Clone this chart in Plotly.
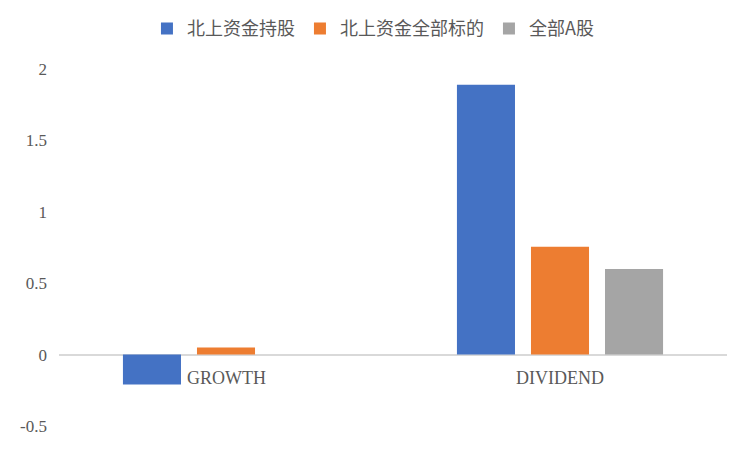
import plotly.graph_objects as go

categories = ["GROWTH", "DIVIDEND"]
series_names = ["北上资金持股", "北上资金全部标的", "全部A股"]
holdings = [-0.21, 1.89]
all_targets = [0.05, 0.755]
all_a = [0.0, 0.60]
colors = ["#4472C4", "#ED7D31", "#A5A5A5"]
y_ticks = [-0.5, 0, 0.5, 1, 1.5, 2]

fig = go.Figure()
for name, vals, c in zip(series_names, [holdings, all_targets, all_a], colors):
    fig.add_trace(go.Bar(x=categories, y=vals, name=name, marker=dict(color=c, line=dict(width=0))))

for cat in categories:
    fig.add_annotation(x=cat, y=0, text=cat, showarrow=False, yanchor="top", yshift=-11,
                       font=dict(family="Liberation Serif", size=18, color="#595959"))

fig.update_layout(
    width=750, height=450,
    margin=dict(l=51, r=31, t=61, b=32),
    paper_bgcolor="white", plot_bgcolor="white",
    barmode="group", bargap=0.335, bargroupgap=0.216,
    legend=dict(orientation="h", x=0.47, xanchor="center", y=0.995, yanchor="top", yref="container",
                font=dict(family="Noto Sans CJK SC", size=18, color="#595959"), itemwidth=30,
                traceorder="normal"),
    xaxis=dict(showticklabels=False, showgrid=False, zeroline=False, showline=False),
    yaxis=dict(range=[-0.5, 2], tickvals=y_ticks, ticktext=[str(v) for v in y_ticks],
               showgrid=False, zeroline=True, zerolinecolor="#D9D9D9", zerolinewidth=1.5,
               tickfont=dict(family="Liberation Serif", size=17, color="#595959"),
               ticklabelstandoff=11),
    showlegend=True,
)
fig.write_html("out.html")
